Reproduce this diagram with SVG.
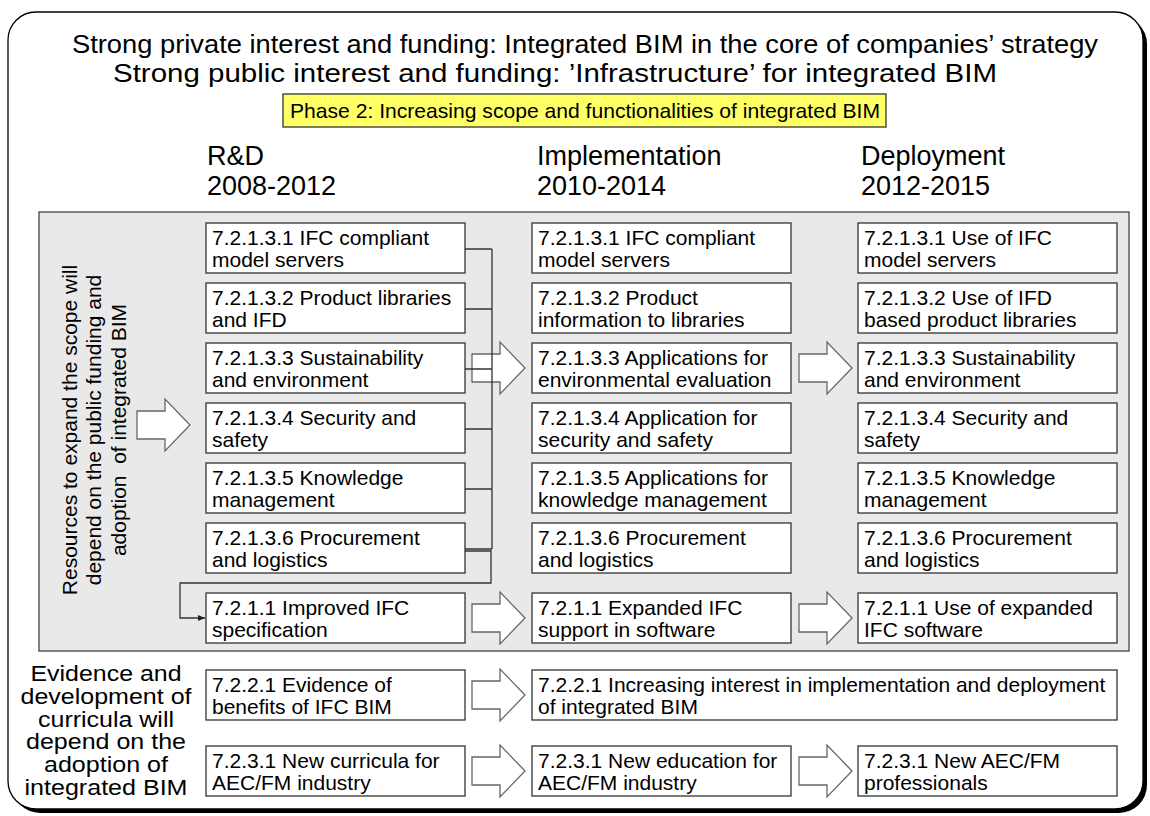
<svg xmlns="http://www.w3.org/2000/svg" width="1150" height="816" viewBox="0 0 1150 816">
<style>
text{font-family:"Liberation Sans",Arial,sans-serif;fill:#000}
.t{font-size:21px}
.h{font-size:27px}
.ttl{font-size:26px}
.lb{font-size:22px;text-anchor:middle}
.box{fill:#fff;stroke:#333;stroke-width:1.3}
.arr{fill:#fff;stroke:#666;stroke-width:1.3}
.con{fill:none;stroke:#333;stroke-width:1.3}
</style>
<defs>
<path id="ba" d="M0,-14 H28 V-26 L53,0 L28,26 V14 H0 Z"/>
<marker id="ah" markerWidth="8" markerHeight="8" refX="7" refY="4" orient="auto" markerUnits="userSpaceOnUse">
<path d="M0,1 L7,4 L0,7 Z" fill="#222"/>
</marker>
</defs>
<rect x="12" y="16" width="1135" height="797" rx="28" fill="#000"/>
<rect x="8" y="12" width="1135" height="797" rx="28" fill="#fff" stroke="#000" stroke-width="1.3"/>
<g id="title">
<text class="ttl" x="72" y="53" textLength="1026" lengthAdjust="spacingAndGlyphs">Strong private interest and funding: Integrated BIM in the core of companies’ strategy</text>
<text class="ttl" x="113" y="82" textLength="884" lengthAdjust="spacingAndGlyphs">Strong public interest and funding: ’Infrastructure’ for integrated BIM</text>
</g>
<g id="phase">
<rect x="283" y="94" width="603" height="33" fill="#ffff66" stroke="#333" stroke-width="1.3"/>
<text class="t" x="290" y="118" textLength="590" lengthAdjust="spacingAndGlyphs">Phase 2: Increasing scope and functionalities of integrated BIM</text>
</g>
<g id="headers">
<text class="h" x="207" y="165">R&amp;D</text>
<text class="h" x="207" y="195">2008-2012</text>
<text class="h" x="537" y="165">Implementation</text>
<text class="h" x="537" y="195">2010-2014</text>
<text class="h" x="861" y="165">Deployment</text>
<text class="h" x="861" y="195">2012-2015</text>
</g>
<rect id="panel" x="39" y="212" width="1090" height="439" fill="#e9e9e9" stroke="#444" stroke-width="1.3"/>
<g id="sideText1">
<text class="t" text-anchor="middle" transform="translate(77,430) rotate(-90)">Resources to expand the scope will</text>
<text class="t" text-anchor="middle" transform="translate(101,430) rotate(-90)">depend on the public funding and</text>
<text class="t" text-anchor="middle" xml:space="preserve" transform="translate(126,430) rotate(-90)">adoption  of integrated BIM</text>
</g>
<g id="sideText2">
<text class="lb" x="106" y="681" textLength="151" lengthAdjust="spacingAndGlyphs">Evidence and</text>
<text class="lb" x="106" y="703.8" textLength="171" lengthAdjust="spacingAndGlyphs">development of</text>
<text class="lb" x="106" y="726.6" textLength="136" lengthAdjust="spacingAndGlyphs">curricula will</text>
<text class="lb" x="106" y="749.4" textLength="160" lengthAdjust="spacingAndGlyphs">depend on the</text>
<text class="lb" x="106" y="772.2" textLength="124" lengthAdjust="spacingAndGlyphs">adoption of</text>
<text class="lb" x="106" y="795" textLength="163" lengthAdjust="spacingAndGlyphs">integrated BIM</text>
</g>
<g id="arrows">
<use href="#ba" class="arr" transform="translate(137,425)"/>
<use href="#ba" class="arr" transform="translate(472,368)"/>
<use href="#ba" class="arr" transform="translate(472,618)"/>
<use href="#ba" class="arr" transform="translate(472,695)"/>
<use href="#ba" class="arr" transform="translate(472,771)"/>
<use href="#ba" class="arr" transform="translate(799,368)"/>
<use href="#ba" class="arr" transform="translate(799,618)"/>
<use href="#ba" class="arr" transform="translate(799,771)"/>
</g>
<g id="n1"><rect class="box" x="206" y="223" width="259" height="50"/><text class="t" x="212" y="245">7.2.1.3.1 IFC compliant</text><text class="t" x="212" y="267">model servers</text></g>
<g id="n2"><rect class="box" x="206" y="283" width="259" height="50"/><text class="t" x="212" y="305">7.2.1.3.2 Product libraries</text><text class="t" x="212" y="327">and IFD</text></g>
<g id="n3"><rect class="box" x="206" y="343" width="259" height="50"/><text class="t" x="212" y="365">7.2.1.3.3 Sustainability</text><text class="t" x="212" y="387">and environment</text></g>
<g id="n4"><rect class="box" x="206" y="403" width="259" height="50"/><text class="t" x="212" y="425">7.2.1.3.4 Security and</text><text class="t" x="212" y="447">safety</text></g>
<g id="n5"><rect class="box" x="206" y="463" width="259" height="50"/><text class="t" x="212" y="485">7.2.1.3.5 Knowledge</text><text class="t" x="212" y="507">management</text></g>
<g id="n6"><rect class="box" x="206" y="523" width="259" height="50"/><text class="t" x="212" y="545">7.2.1.3.6 Procurement</text><text class="t" x="212" y="567">and logistics</text></g>
<g id="n7"><rect class="box" x="206" y="593" width="259" height="50"/><text class="t" x="212" y="615">7.2.1.1 Improved IFC</text><text class="t" x="212" y="637">specification</text></g>
<g id="n8"><rect class="box" x="206" y="670" width="259" height="50"/><text class="t" x="212" y="692">7.2.2.1 Evidence of</text><text class="t" x="212" y="714">benefits of IFC BIM</text></g>
<g id="n9"><rect class="box" x="206" y="746" width="259" height="50"/><text class="t" x="212" y="768">7.2.3.1 New curricula for</text><text class="t" x="212" y="790">AEC/FM industry</text></g>
<g id="m1"><rect class="box" x="532" y="223" width="259" height="50"/><text class="t" x="538" y="245">7.2.1.3.1 IFC compliant</text><text class="t" x="538" y="267">model servers</text></g>
<g id="m2"><rect class="box" x="532" y="283" width="259" height="50"/><text class="t" x="538" y="305">7.2.1.3.2 Product</text><text class="t" x="538" y="327">information to libraries</text></g>
<g id="m3"><rect class="box" x="532" y="343" width="259" height="50"/><text class="t" x="538" y="365">7.2.1.3.3 Applications for</text><text class="t" x="538" y="387">environmental evaluation</text></g>
<g id="m4"><rect class="box" x="532" y="403" width="259" height="50"/><text class="t" x="538" y="425">7.2.1.3.4 Application for</text><text class="t" x="538" y="447">security and safety</text></g>
<g id="m5"><rect class="box" x="532" y="463" width="259" height="50"/><text class="t" x="538" y="485">7.2.1.3.5 Applications for</text><text class="t" x="538" y="507">knowledge management</text></g>
<g id="m6"><rect class="box" x="532" y="523" width="259" height="50"/><text class="t" x="538" y="545">7.2.1.3.6 Procurement</text><text class="t" x="538" y="567">and logistics</text></g>
<g id="m7"><rect class="box" x="532" y="593" width="259" height="50"/><text class="t" x="538" y="615">7.2.1.1 Expanded IFC</text><text class="t" x="538" y="637">support in software</text></g>
<g id="m8"><rect class="box" x="532" y="670" width="585" height="50"/><text class="t" x="538" y="692">7.2.2.1 Increasing interest in implementation and deployment</text><text class="t" x="538" y="714">of integrated BIM</text></g>
<g id="m9"><rect class="box" x="532" y="746" width="259" height="50"/><text class="t" x="538" y="768">7.2.3.1 New education for</text><text class="t" x="538" y="790">AEC/FM industry</text></g>
<g id="d1"><rect class="box" x="858" y="223" width="259" height="50"/><text class="t" x="864" y="245">7.2.1.3.1 Use of IFC</text><text class="t" x="864" y="267">model servers</text></g>
<g id="d2"><rect class="box" x="858" y="283" width="259" height="50"/><text class="t" x="864" y="305">7.2.1.3.2 Use of IFD</text><text class="t" x="864" y="327">based product libraries</text></g>
<g id="d3"><rect class="box" x="858" y="343" width="259" height="50"/><text class="t" x="864" y="365">7.2.1.3.3 Sustainability</text><text class="t" x="864" y="387">and environment</text></g>
<g id="d4"><rect class="box" x="858" y="403" width="259" height="50"/><text class="t" x="864" y="425">7.2.1.3.4 Security and</text><text class="t" x="864" y="447">safety</text></g>
<g id="d5"><rect class="box" x="858" y="463" width="259" height="50"/><text class="t" x="864" y="485">7.2.1.3.5 Knowledge</text><text class="t" x="864" y="507">management</text></g>
<g id="d6"><rect class="box" x="858" y="523" width="259" height="50"/><text class="t" x="864" y="545">7.2.1.3.6 Procurement</text><text class="t" x="864" y="567">and logistics</text></g>
<g id="d7"><rect class="box" x="858" y="593" width="259" height="50"/><text class="t" x="864" y="615">7.2.1.1 Use of expanded</text><text class="t" x="864" y="637">IFC software</text></g>
<g id="d9"><rect class="box" x="858" y="746" width="259" height="50"/><text class="t" x="864" y="768">7.2.3.1 New AEC/FM</text><text class="t" x="864" y="790">professionals</text></g>
<g id="connectors">
<path class="con" d="M465,249 H492 M465,309 H492 M465,369 H492 M465,429 H492 M465,489 H492 M465,549 H492 M492,249 V549"/>
<path class="con" d="M465,551 H491 V583 H180 V618 H205" marker-end="url(#ah)"/>
</g>
</svg>
